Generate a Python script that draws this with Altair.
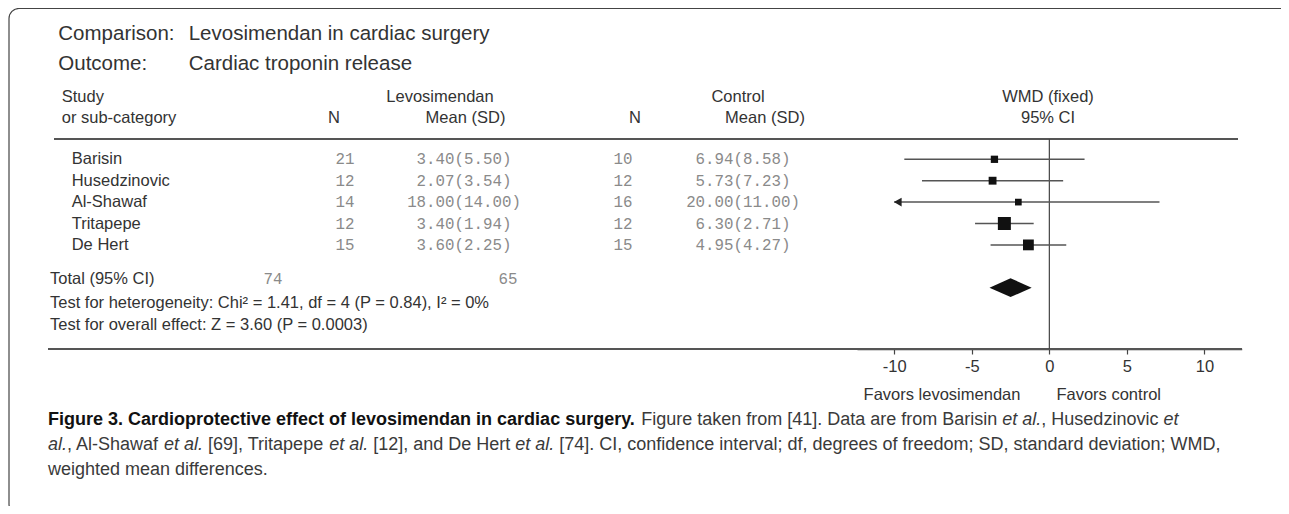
import altair as alt
import pandas as pd

# ---------------- data ----------------
studies = ["Barisin", "Husedzinovic", "Al-Shawaf", "Tritapepe", "De Hert"]
n_levo = [21, 12, 14, 12, 15]
mean_levo = [3.40, 2.07, 18.00, 3.40, 3.60]
sd_levo = [5.50, 3.54, 14.00, 1.94, 2.25]
n_ctrl = [10, 12, 16, 12, 15]
mean_ctrl = [6.94, 5.73, 20.00, 6.30, 4.95]
sd_ctrl = [8.58, 7.23, 11.00, 2.71, 4.27]
wmd = [-3.54, -3.66, -2.00, -2.90, -1.35]
ci_low = [-9.35, -8.21, -11.10, -4.79, -3.79]
ci_high = [2.27, 0.89, 7.10, -1.01, 1.09]
weight = [5.49, 8.95, 2.24, 52.21, 31.11]
total_n = [74, 65]
total_est = [-3.86, -2.50, -1.14]
tick_values = [-10, -5, 0, 5, 10]
axis_limit = [-10, 10]

# ---------------- layout constants ----------------
W, H = 1273, 498
SANS = "Liberation Sans"
MONO = "Liberation Mono"
TXT = "#333333"
GRAY = "#8a8a8a"

rows = list(range(len(studies)))
TOTAL_ROW = 6
HALF = 0.44

xscale = alt.Scale(domain=[-12.4, 12.4], range=[849, 1233.7], nice=False, zero=False)
yscale = alt.Scale(domain=[0, TOTAL_ROW], range=[151.3, 279.7], nice=False, zero=False)
xaxis = alt.Axis(values=tick_values, labelExpr="'' + datum.value", title=None, grid=False,
                 domain=True, domainColor="#444", domainWidth=1.5, tickColor="#444",
                 tickSize=5, tickWidth=1.2, labelFont=SANS, labelFontSize=16.5,
                 labelColor=TXT, labelPadding=4, offset=-157)

df = pd.DataFrame({
    "study": studies, "row": rows,
    "nL": [str(v) for v in n_levo],
    "mL": [f"{m:.2f}({s:.2f})" for m, s in zip(mean_levo, sd_levo)],
    "nC": [str(v) for v in n_ctrl],
    "mC": [f"{m:.2f}({s:.2f})" for m, s in zip(mean_ctrl, sd_ctrl)],
    "wmd": wmd, "lo": ci_low, "hi": ci_high, "weight": weight,
})
df["lo_plot"] = df["lo"].clip(lower=axis_limit[0])
df["hi_plot"] = df["hi"].clip(upper=axis_limit[1])
df["arrow"] = axis_limit[0]


def T(text, x, y, size=16.5, color=TXT, font=SANS, align="left", weight="normal", style="normal"):
    return alt.Chart(pd.DataFrame({"t": [text]})).mark_text(
        align=align, baseline="middle", fontSize=size, color=color, font=font,
        fontWeight=weight, fontStyle=style
    ).encode(x=alt.value(x), y=alt.value(y), text="t:N")


def HR(x1, x2, y, width=1.5, color="#555"):
    return alt.Chart(pd.DataFrame({"a": [0]})).mark_rule(color=color, strokeWidth=width).encode(
        x=alt.value(x1), x2=alt.value(x2), y=alt.value(y))


# ---- Arial / Liberation Sans advance widths (1/1000 em) for caption layout ----
REG = {" ": 278, "!": 278, "%": 889, "'": 191, "(": 333, ")": 333, ",": 278, "-": 333, ".": 278,
       "/": 278, ":": 278, ";": 278, "=": 584, "?": 556, "[": 278, "]": 278}
REG.update({d: 556 for d in "0123456789"})
REG.update(dict(zip("ABCDEFGHIJKLMNOPQRSTUVWXYZ",
                    [667, 667, 722, 722, 667, 611, 778, 722, 278, 500, 667, 556, 833, 722, 778, 667,
                     778, 722, 667, 611, 722, 667, 944, 667, 667, 611])))
REG.update(dict(zip("abcdefghijklmnopqrstuvwxyz",
                    [556, 556, 500, 556, 556, 278, 556, 556, 222, 222, 500, 222, 833, 556, 556, 556,
                     556, 333, 500, 278, 556, 500, 722, 500, 500, 500])))
BOLD = dict(REG)
BOLD.update({":": 333, ";": 333, "[": 333, "]": 333})
BOLD.update(dict(zip("ABCDEFGHIJKLMNOPQRSTUVWXYZ",
                     [722, 722, 722, 722, 667, 611, 778, 722, 278, 556, 722, 611, 833, 722, 778, 667,
                      778, 722, 667, 611, 722, 667, 944, 667, 667, 611])))
BOLD.update(dict(zip("abcdefghijklmnopqrstuvwxyz",
                     [556, 611, 556, 611, 556, 333, 611, 611, 278, 278, 556, 278, 889, 611, 611, 611,
                      611, 389, 556, 333, 611, 556, 778, 556, 556, 500])))


def em(s, bold=False):
    tab = BOLD if bold else REG
    return sum(tab.get(c, 556) for c in s) / 1000.0


cap_lines = [
    [("Figure 3. Cardioprotective effect of levosimendan in cardiac surgery.", "bold"),
     (" Figure taken from [41]. Data are from Barisin ", "normal"),
     ("et al.", "italic"), (", Husedzinovic ", "normal"), ("et", "italic")],
    [("al.", "italic"), (", Al-Shawaf ", "normal"), ("et al.", "italic"),
     (" [69], Tritapepe ", "normal"), ("et al.", "italic"), (" [12], and De Hert ", "normal"),
     ("et al.", "italic"),
     (" [74]. CI, confidence interval; df, degrees of freedom; SD, standard deviation; WMD,", "normal")],
    [("weighted mean differences.", "normal")],
]
CAP_X0 = 40
CAP_Y = [412, 437, 462]
line2_em = sum(em(s, st == "bold") for s, st in cap_lines[1])
CS = max(14.0, min(18.0, 1.035 * (1232 - 48) / line2_em))

layers = []

# frame
layers.append(alt.Chart(pd.DataFrame({"a": [0]})).mark_rect(
    fill="white", fillOpacity=0, stroke="#444", strokeWidth=1.2, cornerRadius=10
).encode(x=alt.value(1), x2=alt.value(1400), y=alt.value(0.5), y2=alt.value(506)))

# titles
layers += [
    T("Comparison:", 50.3, 26, size=20.5),
    T("Levosimendan in cardiac surgery", 180.7, 26, size=20.5),
    T("Outcome:", 50.3, 56, size=20.5),
    T("Cardiac troponin release", 180.7, 56, size=20.5),
    T("Study", 53.7, 88.7),
    T("or sub-category", 53.7, 110),
    T("N", 326, 110, align="center"),
    T("Levosimendan", 432, 88.7, align="center"),
    T("Mean (SD)", 457.5, 110, align="center"),
    T("N", 627, 110, align="center"),
    T("Control", 730, 88.7, align="center"),
    T("Mean (SD)", 757, 110, align="center"),
    T("WMD (fixed)", 1040, 88.7, align="center"),
    T("95% CI", 1040, 110, align="center"),
]

# lines
layers.append(HR(46, 1230, 131, width=2))
layers.append(HR(40, 1234, 341, width=2))

# zero line
layers.append(alt.Chart(pd.DataFrame({"z": [0]})).mark_rule(color="#444", strokeWidth=1.2).encode(
    x=alt.X("z:Q", scale=xscale, axis=xaxis), y=alt.value(131), y2=alt.value(341)))

# table rows
base = alt.Chart(df)
ry = alt.Y("row:Q", scale=yscale, axis=None)
layers += [
    base.mark_text(align="left", baseline="middle", fontSize=16.5, font=SANS, color=TXT).encode(
        x=alt.value(63.7), y=ry, text="study:N"),
    base.mark_text(align="center", baseline="middle", fontSize=15.8, font=MONO, color=GRAY).encode(
        x=alt.value(337), y=ry, text="nL:N"),
    base.mark_text(align="center", baseline="middle", fontSize=15.8, font=MONO, color=GRAY).encode(
        x=alt.value(456), y=ry, text="mL:N"),
    base.mark_text(align="center", baseline="middle", fontSize=15.8, font=MONO, color=GRAY).encode(
        x=alt.value(615), y=ry, text="nC:N"),
    base.mark_text(align="center", baseline="middle", fontSize=15.8, font=MONO, color=GRAY).encode(
        x=alt.value(735), y=ry, text="mC:N"),
]

# forest: CIs, squares, arrow
layers += [
    base.mark_rule(color="#555", strokeWidth=1.5).encode(
        x=alt.X("lo_plot:Q", scale=xscale, axis=xaxis), x2="hi_plot:Q", y=ry),
    base.mark_square(filled=True, color="#111", opacity=1).encode(
        x=alt.X("wmd:Q", scale=xscale, axis=xaxis), y=ry,
        size=alt.Size("weight:Q", scale=alt.Scale(domain=[2.24, 52.21], range=[45, 169]), legend=None)),
    base.transform_filter(alt.datum.lo < axis_limit[0]).mark_point(
        shape="triangle-left", filled=True, color="#222", opacity=1, size=80, xOffset=3.5
    ).encode(x=alt.X("arrow:Q", scale=xscale, axis=xaxis), y=ry),
]

# total diamond
dia = pd.DataFrame({
    "x": total_est,
    "y1": [TOTAL_ROW, TOTAL_ROW - HALF, TOTAL_ROW],
    "y2": [TOTAL_ROW, TOTAL_ROW + HALF, TOTAL_ROW],
})
layers.append(alt.Chart(dia).mark_area(color="#111", opacity=1, orient="vertical").encode(
    x=alt.X("x:Q", scale=xscale, axis=xaxis),
    y=alt.Y("y1:Q", scale=yscale, axis=None), y2="y2:Q"))

# totals and tests
layers += [
    T("Total (95% CI)", 42, 271),
    T(str(total_n[0]), 265, 271, size=15.8, color=GRAY, font=MONO, align="center"),
    T(str(total_n[1]), 500, 271, size=15.8, color=GRAY, font=MONO, align="center"),
    T("Test for heterogeneity: Chi\u00b2 = 1.41, df = 4 (P = 0.84), I\u00b2 = 0%", 42, 295.3),
    T("Test for overall effect: Z = 3.60 (P = 0.0003)", 42, 317),
    T("Favors levosimendan", 934, 387, align="center"),
    T("Favors control", 1100.7, 387, align="center"),
]

# caption, laid out segment by segment
for segs, y in zip(cap_lines, CAP_Y):
    x = CAP_X0
    for s, st in segs:
        bold = st == "bold"
        lead = len(s) - len(s.lstrip(" "))
        sx = x + em(s[:lead], bold) * CS
        layers.append(T(s.strip(" "), sx, y, size=CS, font=SANS,
                        color="#111" if bold else "#3a3a3a",
                        weight="bold" if bold else "normal",
                        style="italic" if st == "italic" else "normal"))
        x += em(s, bold) * CS

chart = alt.layer(*layers).properties(
    width=W, height=H, autosize=alt.AutoSizeParams(type="none"), padding=0
).configure_view(stroke=None)

chart.save("out.html", embed_options={"renderer": "svg", "actions": False})
